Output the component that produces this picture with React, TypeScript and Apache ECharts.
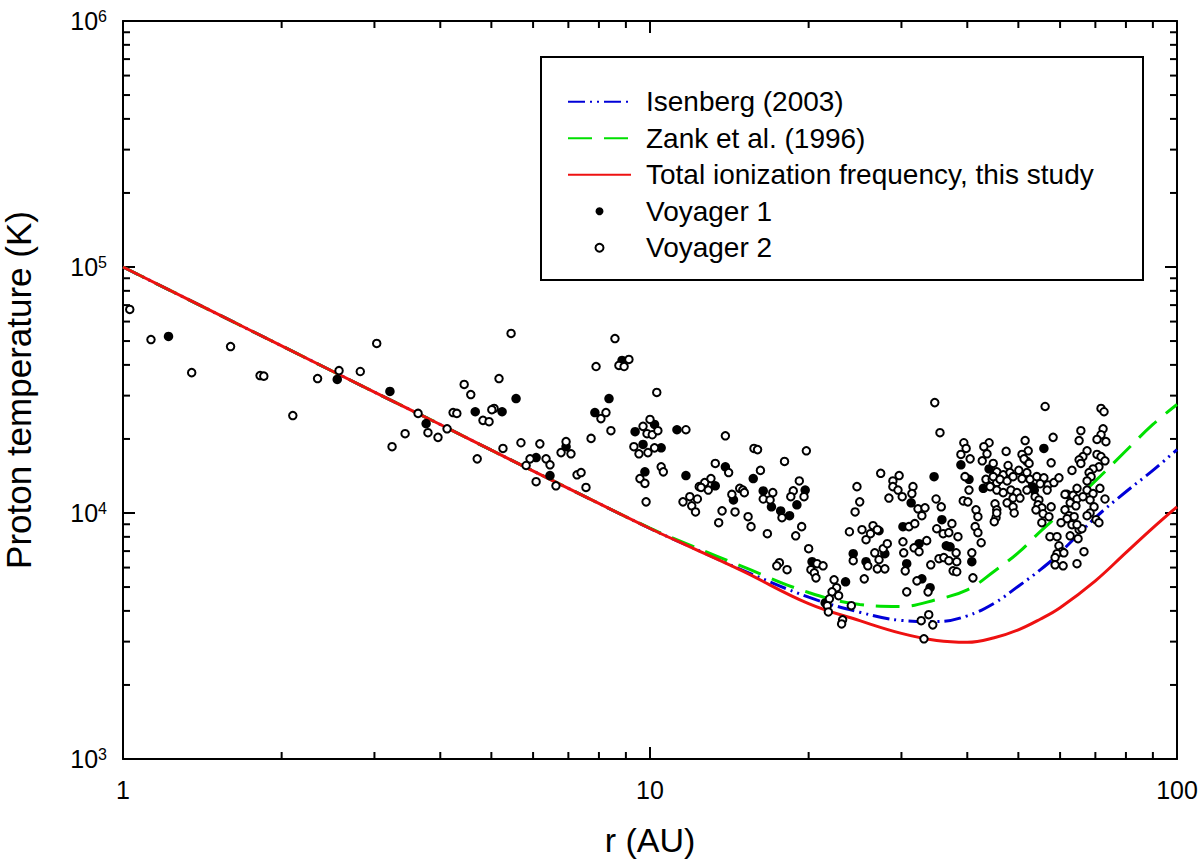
import React, { useEffect, useRef } from 'react';
import * as echarts from 'echarts';

const FONT = "'Liberation Sans', Arial, sans-serif";

// model curves, sampled along r (AU)
const rCurve = [1, 1.5, 2, 3, 4, 5, 7, 10, 12, 15, 20, 25, 30, 35, 40, 45, 50, 55, 60, 70, 80, 90, 100];
const isenbergT = [100000, 64900, 47800, 31000, 22900, 18000, 12600, 8650, 7250, 5850, 4550, 3950, 3660, 3620, 3820, 4300, 5040, 5870, 6900, 9570, 12200, 14900, 18100];
const zankT = [100000, 64900, 47800, 31000, 22900, 18000, 12600, 8680, 7350, 6050, 4750, 4250, 4170, 4450, 4870, 5800, 6900, 8400, 9930, 13500, 17900, 22900, 27600];
const totalT = [100000, 64900, 47800, 31000, 22900, 18000, 12600, 8650, 7230, 5800, 4280, 3650, 3240, 3030, 2980, 3110, 3350, 3700, 4120, 5300, 6900, 8700, 10600];

// [r (AU), T (K)]
const voyager1 = [
  [1.22, 52200], [2.55, 34900], [3.21, 31200], [3.76, 23100], [4.66, 25800], [5.24, 25800],
  [5.57, 29200], [6.08, 16800], [6.46, 14200], [6.93, 18600], [8.85, 41700], [8.36, 29200],
  [7.86, 25600], [10.2, 22900], [9.37, 21400], [9.7, 19000], [10.5, 18400], [9.78, 14700],
  [11.25, 21800], [11.7, 14200], [13.9, 15400], [15.7, 13800], [13.3, 12900], [14.4, 11300],
  [16.4, 12300], [17.0, 10600], [17.7, 10200], [18.4, 9750], [19.7, 12400], [19.0, 10800],
  [20.3, 6340], [23.5, 5250], [21.5, 4310], [24.3, 6830], [27.2, 8470], [27.9, 6830],
  [25.7, 6340], [31.3, 11000], [30.2, 8800], [32.4, 7500], [30.7, 6220], [32.8, 5400],
  [34.0, 4970], [34.6, 14050], [35.8, 9390], [36.5, 7360], [37.1, 7290], [38.9, 15700],
  [40.3, 13700], [40.8, 6340], [44.0, 15100], [42.9, 12600], [55.9, 18300], [51.9, 16200],
  [53.1, 12800], [53.6, 12400],
];

const voyager2 = [
  [1.03, 67200], [1.13, 50700], [1.35, 37200], [1.6, 47500], [1.82, 36200], [1.85, 36000],
  [2.1, 24900], [2.34, 35200], [2.57, 37900], [2.82, 37600], [3.03, 48900], [3.63, 25400],
  [3.79, 21200], [3.43, 21000], [3.24, 18600], [3.96, 20300], [4.12, 22000], [4.23, 25600],
  [4.3, 25400], [4.44, 33300], [4.57, 30300], [4.7, 16600], [4.82, 23800], [4.95, 23500],
  [5.17, 35200], [5.45, 53700], [5.06, 26600], [5.01, 26300], [5.26, 18300], [5.69, 19300],
  [6.18, 19100], [5.92, 16600], [5.82, 15600], [6.35, 16600], [6.46, 15700], [6.08, 13400],
  [6.63, 12900], [6.78, 17600], [6.93, 19500], [7.08, 17400], [7.27, 14300], [7.4, 14600],
  [7.56, 12700], [7.73, 20100], [7.9, 39400], [8.58, 51200], [9.12, 42100], [8.73, 39800],
  [8.93, 39400], [8.25, 25600], [8.07, 24200], [8.43, 21600], [10.3, 30900], [10.0, 24000],
  [9.7, 22500], [9.87, 21000], [10.1, 20800], [10.35, 21600], [9.32, 18600], [9.53, 17400],
  [9.91, 17600], [10.2, 18400], [9.57, 13800], [9.78, 13200], [10.5, 15400], [10.6, 14700],
  [9.83, 11100], [11.7, 21800], [11.55, 11100], [11.9, 11650], [12.0, 10700], [12.2, 10100],
  [12.3, 11400], [12.4, 12800], [13.9, 20600], [15.75, 18300], [16.0, 18100], [19.8, 17900],
  [18.0, 16200], [13.3, 15900], [14.1, 14600], [16.2, 14900], [12.7, 13300], [13.05, 13800],
  [12.5, 12700], [12.9, 12400], [13.7, 10200], [13.5, 9130], [14.5, 10100], [14.3, 11900],
  [14.8, 12600], [15.0, 12400], [15.1, 12100], [15.35, 9660], [15.55, 8800], [17.1, 12100],
  [16.4, 11400], [16.9, 11300], [17.8, 9570], [16.7, 8240], [19.2, 13500], [18.7, 12300],
  [18.5, 11650], [19.6, 11650], [19.4, 8800], [18.9, 8080], [20.0, 7160], [17.6, 6280],
  [17.4, 6100], [18.2, 5880], [20.75, 6220], [21.3, 6100], [20.2, 5880], [20.5, 5710],
  [20.65, 5450], [22.35, 5350], [22.6, 4970], [22.15, 4780], [22.8, 4610], [21.9, 4480],
  [21.7, 4200], [21.8, 3960], [24.1, 4200], [23.2, 3680], [23.1, 3540], [24.7, 12800],
  [24.5, 10100], [23.9, 8390], [24.3, 6400], [34.7, 28100], [35.5, 21200], [27.4, 14500],
  [25.0, 11100], [25.25, 8550], [25.7, 7790], [26.5, 8880], [26.2, 8240], [27.0, 8550],
  [26.7, 6890], [27.7, 7160], [28.2, 7500], [27.2, 6460], [25.9, 6100], [27.0, 5930],
  [27.9, 5930], [25.5, 5400], [28.9, 13500], [29.7, 14200], [28.9, 12800], [29.55, 12400],
  [28.4, 11500], [30.1, 11650], [31.55, 12800], [31.4, 12000], [32.25, 10400], [33.25, 10500],
  [32.8, 9750], [31.0, 8800], [31.8, 9050], [30.2, 7640], [31.7, 7220], [32.4, 6960],
  [30.3, 6890], [33.5, 7720], [30.5, 5820], [32.1, 5300], [30.7, 4780], [33.7, 4780],
  [34.1, 6160], [34.9, 11400], [35.7, 10600], [35.0, 8630], [36.0, 8240], [36.9, 8320],
  [37.4, 9050], [38.4, 8010], [35.35, 6520], [36.1, 6590], [36.9, 6400], [38.1, 6890],
  [38.2, 6340], [37.6, 5820], [38.2, 5770], [32.7, 3650], [33.8, 3860], [34.4, 3510],
  [33.1, 3080], [39.4, 19300], [39.8, 18300], [38.9, 17300], [40.5, 16600], [39.6, 14050],
  [40.3, 12400], [39.3, 11200], [40.1, 11100], [41.55, 10300], [41.9, 9660], [41.4, 8800],
  [41.9, 8320], [42.5, 7570], [40.8, 6890], [41.0, 5450], [44.0, 19300], [43.0, 18600],
  [43.6, 17400], [42.7, 16300], [44.8, 15900], [43.4, 13700], [44.6, 13700], [45.5, 13300],
  [45.15, 10900], [45.5, 10300], [45.35, 9570], [45.0, 9220], [56.2, 27100], [71.75, 26600],
  [72.7, 25800], [65.7, 21600], [65.2, 19700], [72.4, 22000], [71.75, 20800], [70.5, 19900],
  [73.3, 19500], [58.2, 20300], [51.5, 19700], [47.4, 17800], [52.2, 17900], [50.8, 17300],
  [51.25, 16600], [52.4, 15900], [57.7, 16000], [67.5, 17900], [66.3, 16950], [65.2, 16450],
  [65.7, 15900], [70.5, 17300], [71.75, 16950], [73.0, 16300], [71.1, 15400], [69.3, 15100],
  [68.1, 14600], [68.7, 14050], [67.5, 13500], [63.2, 14900], [64.6, 12600], [61.85, 11900],
  [45.5, 14700], [46.8, 14300], [47.8, 15600], [48.2, 14600], [44.8, 14050], [46.15, 13700],
  [47.6, 13500], [48.85, 14050], [50.1, 14900], [50.8, 13800], [51.9, 14600], [52.6, 13700],
  [54.2, 14050], [55.9, 13900], [55.0, 13150], [56.9, 13000], [58.4, 13300], [59.7, 13900],
  [44.2, 12800], [45.5, 12400], [46.8, 12100], [48.4, 12400], [49.7, 12100], [48.85, 11500],
  [50.35, 11500], [47.6, 11000], [48.85, 10600], [49.1, 10000], [45.5, 10000], [51.9, 12400],
  [53.8, 11650], [54.7, 11300], [54.5, 10800], [55.4, 10500], [54.0, 10300], [55.7, 9930],
  [57.7, 10600], [56.7, 12400], [55.4, 9130], [57.15, 9660], [61.3, 11900], [63.5, 11800],
  [64.6, 11400], [62.7, 11000], [64.3, 10700], [61.3, 10300], [62.4, 9750], [63.8, 9660],
  [61.85, 9480], [66.3, 11650], [67.5, 12400], [69.3, 12000], [68.4, 11300], [69.6, 10600],
  [71.4, 12600], [73.0, 11400], [68.4, 10000], [67.5, 9750], [70.2, 9390], [71.1, 9130],
  [60.25, 9130], [57.4, 8010], [59.2, 8010], [59.7, 7360], [60.5, 6960], [59.2, 6830],
  [58.7, 6590], [61.0, 6890], [58.7, 6160], [60.8, 6100], [62.7, 8080], [65.2, 8550],
  [64.9, 7860], [66.0, 8630], [66.6, 6960], [64.6, 6220], [63.2, 8960], [64.6, 8960],
];

const xMin = 1;
const xMax = 100;
const yMin = 1000;
const yMax = 1000000;
const xMinorTicks = [2, 3, 4, 5, 6, 7, 8, 9, 20, 30, 40, 50, 60, 70, 80, 90];
const yMinorTicks = [
  2000, 3000, 4000, 5000, 6000, 7000, 8000, 9000,
  20000, 30000, 40000, 50000, 60000, 70000, 80000, 90000,
  200000, 300000, 400000, 500000, 600000, 700000, 800000, 900000,
];
const lineNames = ['Isenberg (2003)', 'Zank et al. (1996)', 'Total ionization frequency, this study'];
const pointNames = ['Voyager 1', 'Voyager 2'];

const App: React.FC = () => {
  const chartRef = useRef<HTMLDivElement>(null);

  useEffect(() => {
    const chart = echarts.init(chartRef.current!, undefined, { renderer: 'svg' });

    const curve = (ts: number[]) => rCurve.map((r, i) => [r, ts[i]]);
    const axisLine = { show: true, lineStyle: { color: '#000', width: 2 } };
    const majorTick = { show: true, inside: true, length: 12, lineStyle: { color: '#000', width: 2 } };
    const tickStyle = { stroke: '#000', lineWidth: 2 };

    const option: any = {
      animation: false,
      backgroundColor: '#fff',
      textStyle: { fontFamily: FONT },
      grid: { left: 123, right: 23, top: 21, bottom: 105, outerBoundsMode: 'none' },
      xAxis: [
        {
          type: 'log', logBase: 10, min: xMin, max: xMax, position: 'bottom',
          axisLine, axisTick: majorTick, splitLine: { show: false },
          axisLabel: {
            fontSize: 25, color: '#000', fontFamily: FONT, margin: 18,
            formatter: (v: number) => String(Math.round(v)),
          },
          name: 'r (AU)', nameLocation: 'middle', nameGap: 64,
          nameTextStyle: { fontSize: 34, color: '#000', fontFamily: FONT },
        },
        {
          type: 'log', logBase: 10, min: xMin, max: xMax, position: 'top',
          axisLine, axisTick: majorTick, axisLabel: { show: false }, splitLine: { show: false },
        },
      ],
      yAxis: [
        {
          type: 'log', logBase: 10, min: yMin, max: yMax, position: 'left',
          axisLine, axisTick: majorTick, splitLine: { show: false },
          axisLabel: {
            margin: 16,
            formatter: (v: number) => `{b|10}{s|${Math.round(Math.log10(v))}}`,
            rich: {
              b: { fontSize: 25, color: '#000', fontFamily: FONT },
              s: { fontSize: 16, color: '#000', fontFamily: FONT, verticalAlign: 'top' },
            },
          },
          name: 'Proton temperature (K)', nameLocation: 'middle', nameGap: 87,
          nameTextStyle: { fontSize: 35, color: '#000', fontFamily: FONT },
        },
        {
          type: 'log', logBase: 10, min: yMin, max: yMax, position: 'right',
          axisLine, axisTick: majorTick, axisLabel: { show: false }, splitLine: { show: false },
        },
      ],
      legend: {
        orient: 'vertical', left: 562, top: 82, itemWidth: 63, itemHeight: 8, itemGap: 7,
        selectedMode: false, z: 10,
        data: [
          ...lineNames.map((name) => ({ name, itemStyle: { opacity: 0 } })),
          ...pointNames.map((name) => ({ name })),
        ],
        textStyle: { fontSize: 28, color: '#000', fontFamily: FONT, lineHeight: 29.5, padding: [0, 0, 0, 10] },
      },
      graphic: [
        {
          type: 'rect', z: 5,
          shape: { x: 541, y: 57, width: 602, height: 223 },
          style: { fill: '#fff', stroke: '#000', lineWidth: 2 },
        },
      ],
      series: [
        {
          type: 'custom', silent: true, clip: false, z: 3,
          data: xMinorTicks.map((v) => [v, yMin]),
          renderItem: (_p: any, api: any) => {
            const v = api.value(0);
            const b = api.coord([v, yMin]);
            const t = api.coord([v, yMax]);
            return {
              type: 'group',
              children: [
                { type: 'line', shape: { x1: b[0], y1: b[1], x2: b[0], y2: b[1] - 7 }, style: tickStyle },
                { type: 'line', shape: { x1: t[0], y1: t[1], x2: t[0], y2: t[1] + 7 }, style: tickStyle },
              ],
            };
          },
        },
        {
          type: 'custom', silent: true, clip: false, z: 3,
          data: yMinorTicks.map((v) => [xMin, v]),
          renderItem: (_p: any, api: any) => {
            const v = api.value(1);
            const l = api.coord([xMin, v]);
            const r = api.coord([xMax, v]);
            return {
              type: 'group',
              children: [
                { type: 'line', shape: { x1: l[0], y1: l[1], x2: l[0] + 7, y2: l[1] }, style: tickStyle },
                { type: 'line', shape: { x1: r[0], y1: r[1], x2: r[0] - 7, y2: r[1] }, style: tickStyle },
              ],
            };
          },
        },
        {
          name: lineNames[0], type: 'line', data: curve(isenbergT), symbol: 'none', showSymbol: false, smooth: 0.4,
          lineStyle: { color: '#0000d8', width: 3, type: [17, 5, 2, 5, 2, 5] },
          itemStyle: { color: '#0000d8' },
        },
        {
          name: lineNames[1], type: 'line', data: curve(zankT), symbol: 'none', showSymbol: false, smooth: 0.4,
          lineStyle: { color: '#00e000', width: 3, type: [24, 12] },
          itemStyle: { color: '#00e000' },
        },
        {
          name: lineNames[2], type: 'line', data: curve(totalT), symbol: 'none', showSymbol: false, smooth: 0.4,
          lineStyle: { color: '#ee1111', width: 3, type: 'solid' },
          itemStyle: { color: '#ee1111' },
        },
        {
          name: pointNames[0], type: 'scatter', data: voyager1, symbol: 'circle', symbolSize: 9.5, z: 4,
          itemStyle: { color: '#000', opacity: 1 },
        },
        {
          name: pointNames[1], type: 'scatter', data: voyager2, symbol: 'circle', symbolSize: 7.5, z: 4,
          itemStyle: { color: '#fff', borderColor: '#000', borderWidth: 2, opacity: 1 },
        },
      ],
    };

    chart.setOption(option);
    return () => {
      chart.dispose();
    };
  }, []);

  return (
    <div
      ref={chartRef}
      style={{ position: 'fixed', left: 0, top: 0, width: 1200, height: 864, background: '#fff' }}
    />
  );
};

export default App;
